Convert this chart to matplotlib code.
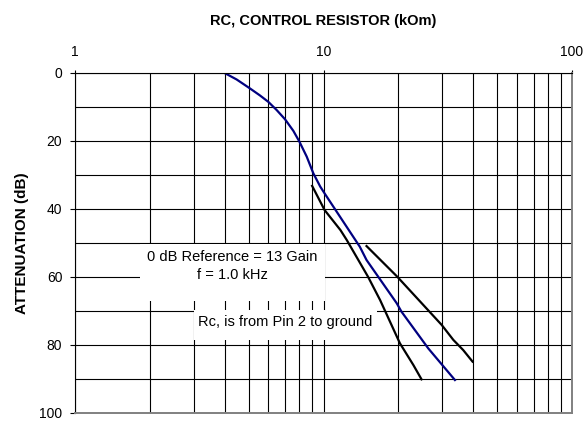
import numpy as np
import matplotlib.pyplot as plt
from matplotlib.patches import Rectangle

plt.rcParams['font.family'] = ['Liberation Sans', 'DejaVu Sans']

# -------------------------------
# data
# -------------------------------
rc_blue = [4.0, 4.47, 5.05, 5.55, 6.0, 6.48, 7.0, 7.56, 8.0, 8.56, 9.1, 9.7, 10.1,
           14.0, 14.9, 19.7, 20.6, 26.4, 33.8]
att_blue = [0.0, 1.9, 4.5, 6.6, 8.5, 10.9, 13.6, 17.0, 20.2, 24.6, 29.5, 33.4, 35.4,
            51.1, 55.0, 67.7, 70.2, 81.0, 90.3]

rc_low = [9.0, 10.1, 11.7, 12.4, 15.1, 16.9, 20.3, 23.0, 24.8]
att_low = [33.2, 40.3, 46.2, 49.1, 59.9, 66.8, 79.5, 85.9, 90.1]

rc_high = [14.9, 19.8, 29.9, 33.3, 36.5, 39.8]
att_high = [50.9, 59.9, 74.1, 78.5, 81.5, 84.9]

x_major = [1, 10, 100]
x_labels = ["1", "10", "100"]
x_minor = [2, 3, 4, 5, 6, 7, 8, 9, 20, 30, 40, 50, 60, 70, 80, 90]
y_major = [0, 20, 40, 60, 80, 100]
y_minor = [10, 30, 50, 70, 90]

fig = plt.figure(figsize=(5.83, 4.21), dpi=100)
ax = fig.add_axes([75/583, 8/421, 497/583, 340/421])

ax.set_xscale("log")
ax.set_xlim(1, 100)
ax.set_ylim(100, 0)

ax.xaxis.tick_top()
ax.set_xticks(x_major)
ax.set_xticklabels(x_labels)
ax.set_xticks(x_minor, minor=True)
ax.set_yticks(y_major)
ax.set_yticks(y_minor, minor=True)
ax.tick_params(axis="x", which="major", direction="out", length=2.5, width=0.8,
               pad=7.5, labelsize=10)
ax.tick_params(axis="y", which="major", direction="out", length=3.6, width=0.8,
               pad=5.5, labelsize=10)
ax.tick_params(which="minor", length=0)
ax.xaxis.set_minor_formatter(plt.NullFormatter())

ax.set_axisbelow(True)
ax.grid(which="both", color="black", linewidth=0.8)

for s in ["left", "top"]:
    ax.spines[s].set_color("black")
    ax.spines[s].set_linewidth(0.8)
for s in ["right", "bottom"]:
    ax.spines[s].set_color("#808080")
    ax.spines[s].set_linewidth(1.4)

# white label boxes covering the grid
ax.add_patch(Rectangle((0.131, 0.329), 0.372, 0.168, transform=ax.transAxes,
                       facecolor="white", edgecolor="none", zorder=1))
ax.add_patch(Rectangle((0.239, 0.215), 0.369, 0.088, transform=ax.transAxes,
                       facecolor="white", edgecolor="none", zorder=1))

ax.text(0.317, 0.459, "0 dB Reference = 13 Gain", transform=ax.transAxes,
        ha="center", va="center", fontsize=10.5, zorder=3)
ax.text(0.317, 0.406, "f = 1.0 kHz", transform=ax.transAxes,
        ha="center", va="center", fontsize=10.5, zorder=3)
ax.text(0.423, 0.268, "R\u1d04, is from Pin 2 to ground", transform=ax.transAxes,
        ha="center", va="center", fontsize=10.5, zorder=3)

ax.plot(rc_blue, att_blue, color="#000080", linewidth=1.6, zorder=2)
ax.plot(rc_low, att_low, color="black", linewidth=1.6, zorder=2)
ax.plot(rc_high, att_high, color="black", linewidth=1.6, zorder=2)

ax.xaxis.set_label_position("top")
ax.set_xlabel("RC, CONTROL RESISTOR (kOm)", fontsize=10.5, fontweight="bold")
ax.xaxis.set_label_coords(0.5, 1 + (73 - 25.3) / 340)
ax.set_ylabel("ATTENUATION (dB)", fontsize=11, fontweight="bold")
ax.yaxis.set_label_coords((29 - 75) / 497, 0.5)

fig.savefig("out.png", dpi=100)
